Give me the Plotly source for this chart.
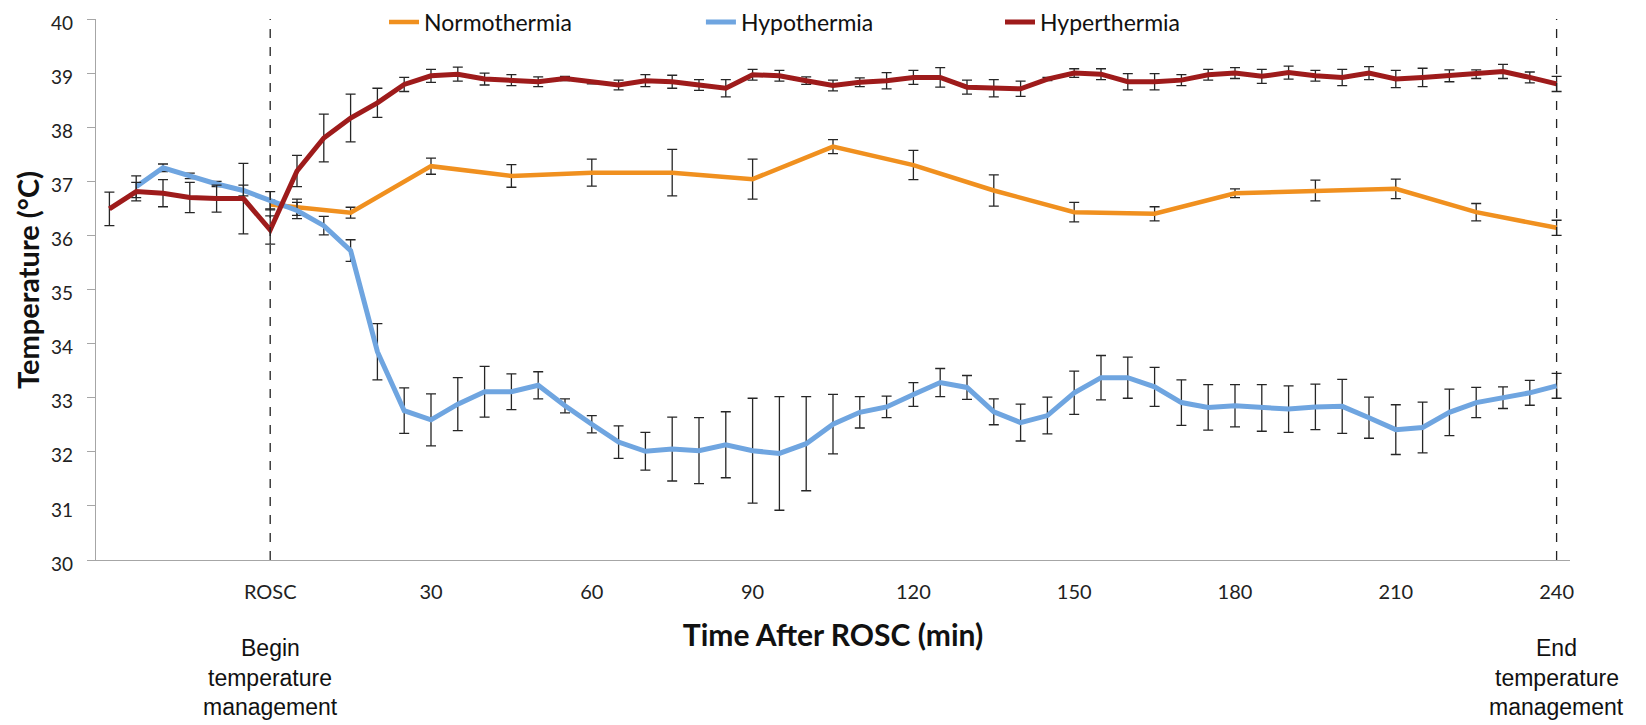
import plotly.graph_objects as go

# ---------------- data ----------------
times = list(range(-30, 245, 5))  # minutes relative to ROSC

hyper = [36.49, 36.81, 36.78, 36.70, 36.68, 36.68, 36.10, 37.19, 37.80, 38.17, 38.45, 38.79,
         38.95, 38.98, 38.89, 38.87, 38.84, 38.90, 38.83, 38.78, 38.86, 38.84, 38.78, 38.72,
         38.97, 38.95, 38.86, 38.77, 38.83, 38.86, 38.92, 38.92, 38.74, 38.72, 38.71, 38.89,
         39.00, 38.98, 38.84, 38.84, 38.87, 38.97, 39.00, 38.94, 39.01, 38.95, 38.92, 39.00,
         38.89, 38.92, 38.95, 38.98, 39.03, 38.92, 38.80]
hyper_err = [0.31, 0.17, 0.25, 0.28, 0.25, 0.65, 0.26, 0.29, 0.44, 0.44, 0.27, 0.13,
             0.12, 0.13, 0.11, 0.10, 0.09, 0.04, 0.03, 0.09, 0.11, 0.12, 0.10, 0.16,
             0.10, 0.10, 0.07, 0.10, 0.08, 0.15, 0.13, 0.18, 0.13, 0.16, 0.14, 0.03,
             0.08, 0.10, 0.15, 0.15, 0.10, 0.10, 0.10, 0.13, 0.12, 0.10, 0.15, 0.12,
             0.16, 0.17, 0.11, 0.08, 0.13, 0.10, 0.14]

hypo = [None, 36.90, 37.25, 37.10, 36.95, 36.83, 36.64, 36.46, 36.18, 35.72, 33.85, 32.76,
        32.59, 32.88, 33.11, 33.11, 33.23, 32.85, 32.51, 32.18, 32.01, 32.05, 32.02, 32.13,
        32.02, 31.97, 32.15, 32.51, 32.73, 32.83, 33.06, 33.28, 33.19, 32.74, 32.54, 32.67,
        33.09, 33.37, 33.37, 33.20, 32.91, 32.82, 32.85, 32.81, 32.79, 32.83, 32.84, 32.63,
        32.41, 32.45, 32.73, 32.91, 33.00, 33.09, 33.22]
hypo_err = [None, 0.20, 0.07, 0.05, 0.05, 0.10, 0.17, 0.15, 0.17, 0.20, 0.52, 0.42,
            0.48, 0.49, 0.47, 0.33, 0.25, 0.13, 0.16, 0.30, 0.35, 0.59, 0.61, 0.61,
            0.97, 1.05, 0.87, 0.55, 0.29, 0.20, 0.22, 0.26, 0.22, 0.24, 0.34, 0.34,
            0.40, 0.41, 0.38, 0.36, 0.42, 0.42, 0.39, 0.43, 0.43, 0.42, 0.50, 0.38,
            0.46, 0.47, 0.43, 0.28, 0.20, 0.23, 0.23]

normo_times = [0, 5, 15, 30, 45, 60, 75, 90, 105, 120, 135, 150, 165, 180, 195, 210, 225, 240]
normo = [36.57, 36.52, 36.42, 37.28, 37.10, 37.16, 37.16, 37.04, 37.64, 37.30, 36.83, 36.43,
         36.40, 36.78, 36.83, 36.86, 36.43, 36.14]
normo_err = [0.08, 0.15, 0.10, 0.15, 0.21, 0.25, 0.43, 0.37, 0.13, 0.27, 0.29, 0.18,
             0.13, 0.08, 0.19, 0.18, 0.16, 0.14]

tick_vals = [0, 30, 60, 90, 120, 150, 180, 210, 240]
tick_text = ["ROSC", "30", "60", "90", "120", "150", "180", "210", "240"]
marker_lines = [0, 240]
marker_notes = [["Begin", "temperature", "management"], ["End", "temperature", "management"]]

# ---------------- figure ----------------
def keep(xs, ys, es):
    out = [(x, y, e) for x, y, e in zip(xs, ys, es) if y is not None]
    return [o[0] for o in out], [o[1] for o in out], [o[2] for o in out]

fig = go.Figure()
err_style = dict(type="data", color="#262626", thickness=1.3, width=5)

series = [
    ("Normothermia", normo_times, normo, normo_err, "#F0901F", 4.5, "legend"),
    ("Hypothermia", times, hypo, hypo_err, "#6FA5E0", 5, "legend2"),
    ("Hyperthermia", times, hyper, hyper_err, "#9E1B1B", 5, "legend3"),
]
for name, xs, ys, es, col, lw, lg in series:
    x, y, e = keep(xs, ys, es)
    fig.add_trace(go.Scatter(
        x=x, y=y, name=name, mode="lines",
        line=dict(color=col, width=lw),
        error_y=dict(array=e, **err_style),
        legend=lg,
    ))

for xv in marker_lines:
    fig.add_shape(type="line", xref="x", yref="y", x0=xv, x1=xv, y0=30, y1=40,
                  line=dict(color="#222222", width=1.3, dash="dash"))

line_y = [-0.1627, -0.2181, -0.2717]
for xv, note in zip(marker_lines, marker_notes):
    for txt, yy in zip(note, line_y):
        fig.add_annotation(x=xv, xref="x", y=yy, yref="paper", text=txt, showarrow=False,
                           xanchor="center", yanchor="middle",
                           font=dict(family="Liberation Sans, Arial", size=23, color="#111111"))

# y-axis title
fig.add_annotation(x=0, xref="paper", xshift=-68, y=0.5176, yref="paper",
                   text="<b>Temperature (°C)</b>", textangle=-90, showarrow=False,
                   xanchor="center", yanchor="middle",
                   font=dict(family="Lato", size=29, color="#111111"))

leg_common = dict(orientation="h", yanchor="middle", y=0.9945, xanchor="left",
                  font=dict(family="Lato", size=23, color="#111111"),
                  bgcolor="rgba(0,0,0,0)", borderwidth=0)

fig.update_layout(
    width=1638, height=717,
    margin=dict(l=88, r=76, t=11, b=165, autoexpand=False),
    paper_bgcolor="white", plot_bgcolor="white",
    font=dict(family="Lato", color="#222222"),
    showlegend=True,
    legend=dict(x=0.1954, **leg_common),
    legend2=dict(x=0.4104, **leg_common),
    legend3=dict(x=0.6133, **leg_common),
    xaxis=dict(
        range=[-32.5, 242.5], tickvals=tick_vals, ticktext=tick_text,
        showgrid=False, zeroline=False, showline=True, linecolor="#A6A6A6", linewidth=1.3,
        ticks="", tickfont=dict(family="Lato", size=20, color="#222222"),
        ticklabelstandoff=14,
        title=dict(text="<b>Time After ROSC (min)</b>", standoff=22,
                   font=dict(family="Lato", size=30, color="#111111")),
    ),
    yaxis=dict(
        range=[30, 40], dtick=1,
        showgrid=False, zeroline=False, showline=True, linecolor="#A6A6A6", linewidth=1.3,
        ticks="outside", ticklen=8, tickcolor="#A6A6A6", tickwidth=1.3,
        tickfont=dict(family="Lato", size=19, color="#222222"),
        ticklabelstandoff=10, ticklabelshift=4, ticklabeloverflow="allow",
    ),
)

fig.write_html("out.html")
